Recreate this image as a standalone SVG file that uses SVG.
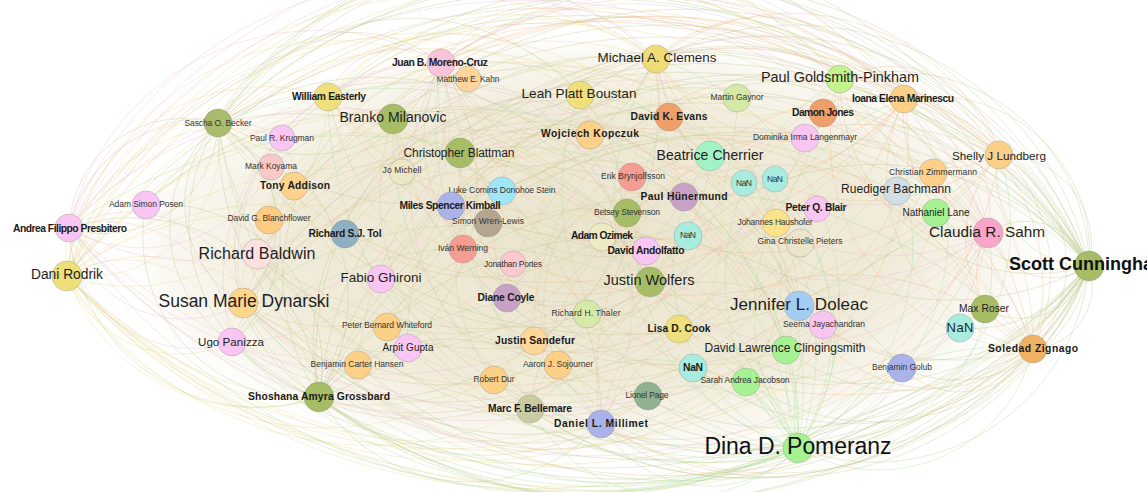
<svg xmlns="http://www.w3.org/2000/svg" width="1147" height="492" viewBox="0 0 1147 492">
<defs>
<radialGradient id="core" cx="0.5" cy="0.5" r="0.5">
<stop offset="0" stop-color="#e6dec4" stop-opacity="0.85"/>
<stop offset="0.65" stop-color="#ebe4cc" stop-opacity="0.72"/>
<stop offset="0.87" stop-color="#f1ebdb" stop-opacity="0.4"/>
<stop offset="1" stop-color="#ffffff" stop-opacity="0"/>
</radialGradient>
</defs>
<style>
.eo{stroke:#b4c27c;stroke-opacity:.45}
.ey{stroke:#e4d77f;stroke-opacity:.45}
.eg{stroke:#9fdd92;stroke-opacity:.45}
.ep{stroke:#efb2d6;stroke-opacity:.45}
.er{stroke:#f0b47e;stroke-opacity:.45}
.ex{stroke:#d4c29a;stroke-opacity:.5}
circle{stroke:#8c8c8c;stroke-opacity:.45;stroke-width:.8}
text{font-family:"Liberation Sans",Arial,sans-serif;text-anchor:middle;dominant-baseline:central;fill:#1e1e1e}
.s{font-size:8.5px;fill:#333}
.b{font-size:10.3px;font-weight:bold;fill:#1a1a1a}
</style>
<rect width="1147" height="492" fill="#ffffff"/>
<g id="edges" fill="none" stroke-width="0.7">
<ellipse cx="585" cy="248" rx="480" ry="220" fill="url(#core)" stroke="none"/>
<g class="eo">
<path d="M67 276A639 639 0 0 1 1089 266"/>
<path d="M69 228A638 638 0 0 1 1089 266"/>
<path d="M146 205A591 591 0 0 1 1089 266"/>
<path d="M218 124A551 551 0 0 1 1089 266"/>
<path d="M282 138A511 511 0 0 1 1089 266"/>
<path d="M328 97A487 487 0 0 1 1089 266"/>
<path d="M393 119A445 445 0 0 1 1089 266"/>
<path d="M441 63A424 424 0 0 1 1089 266"/>
<path d="M460 153A400 400 0 0 1 1089 266"/>
<path d="M580 95A336 336 0 0 1 1089 266"/>
<path d="M656 59A300 300 0 0 1 1089 266"/>
<path d="M840 79A195 195 0 0 1 1089 266"/>
<path d="M904 99A156 156 0 0 1 1089 266"/>
<path d="M999 155A90 90 0 0 1 1089 266"/>
<path d="M257 254A520 520 0 0 1 1089 266"/>
<path d="M243 303A529 529 0 0 1 1089 266"/>
<path d="M294 186A500 500 0 0 1 1089 266"/>
<path d="M269 220A513 513 0 0 1 1089 266"/>
<path d="M345 234A465 465 0 0 1 1089 266"/>
<path d="M451 206A400 400 0 0 1 1089 266"/>
<path d="M381 279A443 443 0 0 1 1089 266"/>
<path d="M650 282A275 275 0 0 1 1089 266"/>
<path d="M507 298A364 364 0 0 1 1089 266"/>
<path d="M988 233A67 67 0 0 1 1089 266"/>
<path d="M232 342A538 538 0 0 1 1089 266"/>
<path d="M319 397A488 488 0 0 1 1089 266"/>
<path d="M1089 266A700 700 0 0 1 67 276"/>
<path d="M1089 266A700 700 0 0 1 69 228"/>
<path d="M1089 266A620 620 0 0 1 232 342"/>
<path d="M1089 266A540 540 0 0 1 319 397"/>
<path d="M1089 266A600 600 0 0 1 243 303"/>
<path d="M1089 266A500 500 0 0 1 358 365"/>
<path d="M1089 266A460 460 0 0 1 408 348"/>
<path d="M1089 266A380 380 0 0 1 530 409"/>
<path d="M1089 266A330 330 0 0 1 601 424"/>
<path d="M1089 266A215 215 0 0 1 798 448"/>
<path d="M1089 266A197 197 0 0 1 786 350"/>
<path d="M1089 266A133 133 0 0 1 902 368"/>
<path d="M1089 266A63 63 0 0 1 1033 349"/>
<path d="M1089 266A71 71 0 0 1 985 309"/>
<path d="M1089 266A183 183 0 0 1 799 306"/>
<path d="M1089 266A350 350 0 0 1 534 341"/>
<path d="M1089 266A379 379 0 0 1 494 380"/>
<path d="M1089 266A287 287 0 0 1 648 396"/>
<path d="M1089 266A226 226 0 0 1 746 382"/>
<path d="M1089 266A256 256 0 0 1 693 368"/>
<path d="M1089 266A443 443 0 0 1 381 279"/>
<path d="M1089 266A560 560 0 0 1 257 254"/>
<path d="M1089 266A364 364 0 0 1 507 298"/>
<path d="M1089 266A275 275 0 0 1 650 282"/>
<path d="M1089 266A140 140 0 0 1 960 328"/>
<path d="M1089 266A156 156 0 0 1 904 99"/>
<path d="M1089 266A195 195 0 0 1 840 79"/>
<path d="M1089 266A300 300 0 0 1 656 59"/>
<path d="M1089 266A67 67 0 0 1 988 233"/>
<path d="M1089 266A90 90 0 0 1 999 155"/>
<path d="M218 124A144 144 0 0 1 441 63"/>
<path d="M218 124A277 277 0 0 1 656 59"/>
<path d="M218 124A390 390 0 0 1 840 79"/>
<path d="M218 124A429 429 0 0 1 904 99"/>
<path d="M218 124A489 489 0 0 1 999 155"/>
<path d="M218 124A227 227 0 0 1 580 95"/>
<path d="M218 124A486 486 0 0 1 988 233"/>
<path d="M218 124A287 287 0 0 1 650 282"/>
<path d="M218 124A182 182 0 0 1 319 397"/>
<path d="M218 124A136 136 0 0 1 232 342"/>
<path d="M218 124A114 114 0 0 1 69 228"/>
<path d="M218 124A113 113 0 0 1 243 303"/>
<path d="M218 124A304 304 0 0 1 601 424"/>
<path d="M441 63A144 144 0 0 1 218 124"/>
<path d="M656 59A277 277 0 0 1 218 124"/>
<path d="M319 397A182 182 0 0 1 218 124"/>
<path d="M232 342A136 136 0 0 1 218 124"/>
<path d="M69 228A114 114 0 0 1 218 124"/>
<path d="M243 303A113 113 0 0 1 218 124"/>
<path d="M601 424A304 304 0 0 1 218 124"/>
<path d="M999 155A489 489 0 0 1 218 124"/>
<path d="M319 397A189 189 0 0 1 69 228"/>
<path d="M319 397A161 161 0 0 1 146 205"/>
<path d="M319 397A164 164 0 0 1 282 138"/>
<path d="M319 397A222 222 0 0 1 441 63"/>
<path d="M319 397A298 298 0 0 1 656 59"/>
<path d="M319 397A249 249 0 0 1 580 95"/>
<path d="M319 397A381 381 0 0 1 840 79"/>
<path d="M319 397A451 451 0 0 1 999 155"/>
<path d="M319 397A430 430 0 0 1 988 233"/>
<path d="M319 397A447 447 0 0 1 1033 349"/>
<path d="M319 397A177 177 0 0 1 601 424"/>
<path d="M319 397A365 365 0 0 1 902 368"/>
<path d="M69 228A189 189 0 0 1 319 397"/>
<path d="M146 205A161 161 0 0 1 319 397"/>
<path d="M441 63A222 222 0 0 1 319 397"/>
<path d="M656 59A298 298 0 0 1 319 397"/>
<path d="M988 233A430 430 0 0 1 319 397"/>
<path d="M1033 349A560 560 0 0 1 319 397"/>
<path d="M601 424A177 177 0 0 1 319 397"/>
<path d="M902 368A450 450 0 0 1 319 397"/>
</g>
<g class="ey">
<path d="M67 276A134 134 0 0 1 218 124"/>
<path d="M67 276A160 160 0 0 1 282 138"/>
<path d="M67 276A269 269 0 0 1 441 63"/>
<path d="M67 276A392 392 0 0 1 656 59"/>
<path d="M67 276A499 499 0 0 1 840 79"/>
<path d="M67 276A535 535 0 0 1 904 99"/>
<path d="M67 276A587 587 0 0 1 999 155"/>
<path d="M67 276A576 576 0 0 1 988 233"/>
<path d="M67 276A340 340 0 0 1 580 95"/>
<path d="M67 276A389 389 0 0 1 669 117"/>
<path d="M67 276A409 409 0 0 1 710 156"/>
<path d="M67 276A364 364 0 0 1 650 282"/>
<path d="M67 276A458 458 0 0 1 799 306"/>
<path d="M67 276A469 469 0 0 1 798 448"/>
<path d="M67 276A606 606 0 0 1 1033 349"/>
<path d="M67 276A574 574 0 0 1 985 309"/>
<path d="M67 276A175 175 0 0 1 319 397"/>
<path d="M67 276A111 111 0 0 1 232 342"/>
<path d="M67 276A346 346 0 0 1 601 424"/>
<path d="M67 276A301 301 0 0 1 530 409"/>
<path d="M798 448A700 700 0 0 1 67 276"/>
<path d="M601 424A500 500 0 0 1 67 276"/>
<path d="M319 397A200 200 0 0 1 67 276"/>
<path d="M232 342A120 120 0 0 1 67 276"/>
<path d="M530 409A360 360 0 0 1 67 276"/>
<path d="M534 341A295 295 0 0 1 67 276"/>
<path d="M902 368A620 620 0 0 1 67 276"/>
<path d="M786 350A520 520 0 0 1 67 276"/>
<path d="M1033 349A750 750 0 0 1 67 276"/>
<path d="M985 309A700 700 0 0 1 67 276"/>
<path d="M799 306A520 520 0 0 1 67 276"/>
<path d="M650 282A400 400 0 0 1 67 276"/>
<path d="M988 233A640 640 0 0 1 67 276"/>
<path d="M218 124A134 134 0 0 1 67 276"/>
<path d="M656 59A116 116 0 0 1 840 79"/>
<path d="M840 79A116 116 0 0 1 656 59"/>
<path d="M656 59A53 53 0 0 1 580 95"/>
<path d="M580 95A53 53 0 0 1 656 59"/>
<path d="M656 59A206 206 0 0 1 328 97"/>
<path d="M328 97A250 250 0 0 1 656 59"/>
<path d="M656 59A169 169 0 0 1 393 119"/>
<path d="M393 119A169 169 0 0 1 656 59"/>
<path d="M656 59A231 231 0 0 1 601 424"/>
<path d="M601 424A231 231 0 0 1 656 59"/>
<path d="M656 59A319 319 0 0 1 232 342"/>
<path d="M232 342A319 319 0 0 1 656 59"/>
<path d="M328 97A450 450 0 0 1 840 79"/>
<path d="M840 79A320 320 0 0 1 328 97"/>
<path d="M328 97A158 158 0 0 1 580 95"/>
<path d="M580 95A158 158 0 0 1 328 97"/>
<path d="M328 97A198 198 0 0 1 67 276"/>
<path d="M67 276A198 198 0 0 1 328 97"/>
</g>
<g class="eg">
<path d="M218 124A415 415 0 0 1 798 448"/>
<path d="M441 63A328 328 0 0 1 798 448"/>
<path d="M656 59A259 259 0 0 1 798 448"/>
<path d="M393 119A326 326 0 0 1 798 448"/>
<path d="M580 95A259 259 0 0 1 798 448"/>
<path d="M840 79A232 232 0 0 1 798 448"/>
<path d="M904 99A228 228 0 0 1 798 448"/>
<path d="M999 155A222 222 0 0 1 798 448"/>
<path d="M988 233A179 179 0 0 1 798 448"/>
<path d="M319 397A301 301 0 0 1 798 448"/>
<path d="M232 342A360 360 0 0 1 798 448"/>
<path d="M243 303A359 359 0 0 1 798 448"/>
<path d="M69 228A476 476 0 0 1 798 448"/>
<path d="M460 153A280 280 0 0 1 798 448"/>
<path d="M710 156A191 191 0 0 1 798 448"/>
<path d="M328 97A367 367 0 0 1 798 448"/>
<path d="M669 117A222 222 0 0 1 798 448"/>
<path d="M798 448A415 415 0 0 1 218 124"/>
<path d="M798 448A328 328 0 0 1 441 63"/>
<path d="M798 448A259 259 0 0 1 656 59"/>
<path d="M798 448A326 326 0 0 1 393 119"/>
<path d="M798 448A259 259 0 0 1 580 95"/>
<path d="M798 448A232 232 0 0 1 840 79"/>
<path d="M798 448A228 228 0 0 1 904 99"/>
<path d="M798 448A222 222 0 0 1 999 155"/>
<path d="M798 448A179 179 0 0 1 988 233"/>
<path d="M798 448A500 500 0 0 1 319 397"/>
<path d="M798 448A500 500 0 0 1 232 342"/>
<path d="M798 448A480 480 0 0 1 243 303"/>
<path d="M798 448A600 600 0 0 1 69 228"/>
<path d="M798 448A124 124 0 0 1 601 424"/>
<path d="M798 448A169 169 0 0 1 530 409"/>
<path d="M798 448A280 280 0 0 1 460 153"/>
<path d="M798 448A191 191 0 0 1 710 156"/>
<path d="M798 448A367 367 0 0 1 328 97"/>
<path d="M798 448A222 222 0 0 1 669 117"/>
<path d="M798 448A255 255 0 0 1 1033 349"/>
<path d="M1033 349A159 159 0 0 1 798 448"/>
<path d="M601 424A124 124 0 0 1 798 448"/>
<path d="M530 409A169 169 0 0 1 798 448"/>
</g>
<g class="ep">
<path d="M69 228A254 254 0 0 1 441 63"/>
<path d="M69 228A382 382 0 0 1 656 59"/>
<path d="M69 228A144 144 0 0 1 282 138"/>
<path d="M69 228A528 528 0 0 1 904 99"/>
<path d="M69 228A583 583 0 0 1 999 155"/>
<path d="M69 228A574 574 0 0 1 988 233"/>
<path d="M69 228A365 365 0 0 1 650 282"/>
<path d="M69 228A459 459 0 0 1 799 306"/>
<path d="M69 228A124 124 0 0 1 232 342"/>
<path d="M69 228A118 118 0 0 1 243 303"/>
<path d="M441 63A254 254 0 0 1 69 228"/>
<path d="M282 138A144 144 0 0 1 69 228"/>
<path d="M232 342A124 124 0 0 1 69 228"/>
<path d="M243 303A118 118 0 0 1 69 228"/>
<path d="M650 282A420 420 0 0 1 69 228"/>
<path d="M799 306A520 520 0 0 1 69 228"/>
<path d="M988 233A680 680 0 0 1 69 228"/>
<path d="M988 233A234 234 0 0 1 656 59"/>
<path d="M988 233A134 134 0 0 1 840 79"/>
<path d="M988 233A358 358 0 0 1 441 63"/>
<path d="M988 233A269 269 0 0 1 580 95"/>
<path d="M988 233A270 270 0 0 1 601 424"/>
<path d="M988 233A214 214 0 0 1 650 282"/>
<path d="M988 233A468 468 0 0 1 243 303"/>
<path d="M656 59A234 234 0 0 1 988 233"/>
<path d="M840 79A134 134 0 0 1 988 233"/>
<path d="M441 63A358 358 0 0 1 988 233"/>
<path d="M580 95A269 269 0 0 1 988 233"/>
<path d="M601 424A270 270 0 0 1 988 233"/>
<path d="M243 303A468 468 0 0 1 988 233"/>
<path d="M441 63A134 134 0 0 1 656 59"/>
<path d="M656 59A134 134 0 0 1 441 63"/>
<path d="M441 63A330 330 0 0 1 840 79"/>
<path d="M840 79A250 250 0 0 1 441 63"/>
<path d="M441 63A74 74 0 0 1 328 97"/>
<path d="M328 97A74 74 0 0 1 441 63"/>
<path d="M441 63A247 247 0 0 1 601 424"/>
<path d="M601 424A247 247 0 0 1 441 63"/>
<path d="M441 63A218 218 0 0 1 232 342"/>
<path d="M232 342A218 218 0 0 1 441 63"/>
<path d="M441 63A195 195 0 0 1 243 303"/>
<path d="M243 303A195 195 0 0 1 441 63"/>
</g>
<g class="er">
<path d="M1033 349A123 123 0 0 1 999 155"/>
<path d="M1033 349A176 176 0 0 1 904 99"/>
<path d="M1033 349A78 78 0 0 1 988 233"/>
<path d="M1033 349A207 207 0 0 1 840 79"/>
<path d="M1033 349A297 297 0 0 1 656 59"/>
<path d="M1033 349A330 330 0 0 1 601 424"/>
<path d="M1033 349A149 149 0 0 1 799 306"/>
<path d="M1033 349A600 600 0 0 1 243 303"/>
<path d="M1033 349A411 411 0 0 1 441 63"/>
<path d="M1033 349A83 83 0 0 1 902 368"/>
<path d="M999 155A123 123 0 0 1 1033 349"/>
<path d="M904 99A176 176 0 0 1 1033 349"/>
<path d="M840 79A207 207 0 0 1 1033 349"/>
<path d="M656 59A297 297 0 0 1 1033 349"/>
<path d="M441 63A411 411 0 0 1 1033 349"/>
<path d="M243 303A495 495 0 0 1 1033 349"/>
<path d="M601 424A274 274 0 0 1 1033 349"/>
<path d="M218 124A520 520 0 0 1 1033 349"/>
<path d="M904 99A290 290 0 0 1 441 63"/>
<path d="M441 63A370 370 0 0 1 904 99"/>
<path d="M904 99A160 160 0 0 1 656 59"/>
<path d="M656 59A160 160 0 0 1 904 99"/>
<path d="M904 99A430 430 0 0 1 218 124"/>
<path d="M218 124A700 700 0 0 1 904 99"/>
<path d="M904 99A203 203 0 0 1 580 95"/>
<path d="M904 99A360 360 0 0 1 328 97"/>
<path d="M904 99A278 278 0 0 1 601 424"/>
<path d="M904 99A432 432 0 0 1 243 303"/>
<path d="M601 424A278 278 0 0 1 904 99"/>
<path d="M243 303A432 432 0 0 1 904 99"/>
<path d="M999 155A354 354 0 0 1 441 63"/>
<path d="M441 63A500 500 0 0 1 999 155"/>
<path d="M999 155A421 421 0 0 1 328 97"/>
<path d="M328 97A600 600 0 0 1 999 155"/>
<path d="M999 155A223 223 0 0 1 656 59"/>
<path d="M656 59A223 223 0 0 1 999 155"/>
<path d="M999 155A110 110 0 0 1 840 79"/>
<path d="M840 79A110 110 0 0 1 999 155"/>
<path d="M999 155A333 333 0 0 1 530 409"/>
<path d="M530 409A333 333 0 0 1 999 155"/>
</g>
<g class="ex">
<path d="M393 119A190 190 0 0 1 650 282"/>
<path d="M650 282A190 190 0 0 1 393 119"/>
<path d="M460 153A232 232 0 0 1 799 306"/>
<path d="M257 254A243 243 0 0 1 646 251"/>
<path d="M243 303A348 348 0 0 1 799 306"/>
<path d="M799 306A348 348 0 0 1 243 303"/>
<path d="M381 279A380 380 0 0 1 988 233"/>
<path d="M840 79A380 380 0 0 1 257 254"/>
<path d="M710 156A155 155 0 0 1 507 298"/>
<path d="M580 95A156 156 0 0 1 534 341"/>
<path d="M451 206A226 226 0 0 1 799 306"/>
<path d="M650 282A264 264 0 0 1 232 342"/>
<path d="M799 306A324 324 0 0 1 294 186"/>
<path d="M669 117A172 172 0 0 1 746 382"/>
<path d="M985 309A389 389 0 0 1 393 119"/>
<path d="M786 350A302 302 0 0 1 393 119"/>
<path d="M902 368A191 191 0 0 1 601 424"/>
<path d="M933 173A442 442 0 0 1 243 303"/>
<path d="M897 191A160 160 0 0 1 650 282"/>
<path d="M936 213A176 176 0 0 1 679 329"/>
<path d="M800 243A284 284 0 0 1 345 234"/>
<path d="M817 209A270 270 0 0 1 408 348"/>
<path d="M776 223A250 250 0 0 1 381 279"/>
<path d="M269 220A245 245 0 0 1 650 282"/>
<path d="M468 79A251 251 0 0 1 799 306"/>
<path d="M737 98A318 318 0 0 1 319 397"/>
<path d="M823 113A396 396 0 0 1 232 342"/>
<path d="M805 138A281 281 0 0 1 381 279"/>
<path d="M590 135A177 177 0 0 1 786 350"/>
<path d="M632 177A252 252 0 0 1 243 303"/>
<path d="M744 183A180 180 0 0 1 460 153"/>
<path d="M684 197A271 271 0 0 1 257 254"/>
<path d="M627 213A266 266 0 0 1 1033 349"/>
<path d="M602 237A209 209 0 0 1 282 138"/>
<path d="M646 251A165 165 0 0 1 441 63"/>
<path d="M679 329A178 178 0 0 1 460 153"/>
<path d="M534 341A256 256 0 0 1 840 79"/>
<path d="M494 380A183 183 0 0 1 580 95"/>
<path d="M558 365A147 147 0 0 1 710 156"/>
<path d="M530 409A187 187 0 0 1 799 306"/>
<path d="M648 396A263 263 0 0 1 243 303"/>
<path d="M601 424A229 229 0 0 1 393 119"/>
<path d="M746 382A318 318 0 0 1 257 254"/>
<path d="M693 368A329 329 0 0 1 218 124"/>
<path d="M358 365A344 344 0 0 1 840 79"/>
<path d="M408 348A220 220 0 0 1 669 117"/>
<path d="M387 327A383 383 0 0 1 988 233"/>
<path d="M587 314A176 176 0 0 1 441 63"/>
<path d="M507 298A173 173 0 0 1 656 59"/>
<path d="M513 264A312 312 0 0 1 999 155"/>
<path d="M463 249A211 211 0 0 1 786 350"/>
<path d="M488 223A317 317 0 0 1 985 309"/>
<path d="M345 234A236 236 0 0 1 710 156"/>
<path d="M502 191A176 176 0 0 1 243 303"/>
<path d="M402 172A267 267 0 0 1 799 306"/>
<path d="M271 167A243 243 0 0 1 646 251"/>
<path d="M294 186A327 327 0 0 1 786 350"/>
<path d="M146 205A317 317 0 0 1 650 282"/>
<path d="M232 342A350 350 0 0 1 710 156"/>
<path d="M960 328A196 196 0 0 1 650 282"/>
<path d="M823 325A343 343 0 0 1 328 97"/>
<path d="M775 179A328 328 0 0 1 257 254"/>
<path d="M688 236A280 280 0 0 1 243 303"/>
</g>
</g>
<g id="nodes">
<g id="n-becker"><circle cx="218" cy="123" r="14" fill="#a9bc6b"/><text x="218" y="123" class="s" textLength="67">Sascha O. Becker</text></g>
<g id="n-krugman"><circle cx="282" cy="138" r="13" fill="#f9c6f3"/><text x="282" y="138" class="s" textLength="64">Paul R. Krugman</text></g>
<g id="n-koyama"><circle cx="271" cy="167" r="13" fill="#f9c8c8"/><text x="271" y="166" class="s" textLength="52">Mark Koyama</text></g>
<g id="n-addison"><circle cx="294" cy="186" r="14" fill="#fdd38c"/><text x="295" y="185" class="b" textLength="70">Tony Addison</text></g>
<g id="n-kahn"><circle cx="468" cy="79" r="13" fill="#fdd59c"/><text x="468" y="79" class="s" textLength="63">Matthew E. Kahn</text></g>
<g id="n-moreno"><circle cx="441" cy="63" r="14" fill="#f9c4d9"/><text x="440" y="62" class="b" textLength="96">Juan B. Moreno-Cruz</text></g>
<g id="n-easterly"><circle cx="328" cy="97" r="14" fill="#efe07c"/><text x="329" y="96" class="b" textLength="74">William Easterly</text></g>
<g id="n-milanovic"><circle cx="393" cy="119" r="15" fill="#a6bd66"/><text x="393" y="117" style="font-size:14px" textLength="107">Branko Milanovic</text></g>
<g id="n-blattman"><circle cx="460" cy="153" r="15" fill="#a6bd66"/><text x="459" y="153" style="font-size:12px" textLength="111">Christopher Blattman</text></g>
<g id="n-boustan"><circle cx="580" cy="95" r="14" fill="#efe07c"/><text x="579" y="93" style="font-size:13.6px" textLength="115">Leah Platt Boustan</text></g>
<g id="n-michell"><circle cx="402" cy="172" r="13" fill="#ece8c6"/><text x="402" y="170" class="s" textLength="39">Jo Michell</text></g>
<g id="n-clemens"><circle cx="656" cy="59" r="14" fill="#efdc78"/><text x="657" y="57" style="font-size:13.4px" textLength="119">Michael A. Clemens</text></g>
<g id="n-evans"><circle cx="669" cy="117" r="14" fill="#ef9f6a"/><text x="669" y="116" class="b" textLength="77">David K. Evans</text></g>
<g id="n-gaynor"><circle cx="737" cy="98" r="14" fill="#d6eaa8"/><text x="737" y="97" class="s" textLength="53">Martin Gaynor</text></g>
<g id="n-goldsmith"><circle cx="840" cy="79" r="14" fill="#c3f28f"/><text x="840" y="77" style="font-size:14.4px" textLength="158">Paul Goldsmith-Pinkham</text></g>
<g id="n-jones"><circle cx="823" cy="113" r="14" fill="#ef9f6a"/><text x="823" y="112" class="b" textLength="62">Damon Jones</text></g>
<g id="n-langenmayr"><circle cx="805" cy="138" r="14" fill="#f9c6f3"/><text x="805" y="137" class="s" textLength="104">Dominika Irma Langenmayr</text></g>
<g id="n-kopczuk"><circle cx="590" cy="135" r="14" fill="#fdd088"/><text x="590" y="133" class="b" textLength="98">Wojciech Kopczuk</text></g>
<g id="n-cherrier"><circle cx="710" cy="156" r="15" fill="#a3f2c6"/><text x="710" y="155" style="font-size:14px" textLength="107">Beatrice Cherrier</text></g>
<g id="n-brynjolfsson"><circle cx="632" cy="177" r="14" fill="#f59d92"/><text x="633" y="176" class="s" textLength="64">Erik Brynjolfsson</text></g>
<g id="n-marinescu"><circle cx="904" cy="99" r="14" fill="#fdd088"/><text x="903" y="98" class="b" textLength="102">Ioana Elena Marinescu</text></g>
<g id="n-lundberg"><circle cx="999" cy="155" r="14" fill="#fdd088"/><text x="999" y="155" style="font-size:11.7px" textLength="94">Shelly J Lundberg</text></g>
<g id="n-posen"><circle cx="146" cy="205" r="14" fill="#f9c6f3"/><text x="146" y="204" class="s" textLength="74">Adam Simon Posen</text></g>
<g id="n-presbitero"><circle cx="69" cy="228" r="14" fill="#f9c6f3"/><text x="70" y="228" class="b" textLength="114">Andrea Filippo Presbitero</text></g>
<g id="n-rodrik"><circle cx="67" cy="276" r="15" fill="#ede07a"/><text x="67" y="274" style="font-size:13.8px" textLength="72">Dani Rodrik</text></g>
<g id="n-blanchflower"><circle cx="269" cy="220" r="14" fill="#fdcc82"/><text x="269" y="218" class="s" textLength="83">David G. Blanchflower</text></g>
<g id="n-baldwin"><circle cx="257" cy="254" r="15" fill="#fde0e0"/><text x="257" y="253" style="font-size:16px" textLength="117">Richard Baldwin</text></g>
<g id="n-dynarski"><circle cx="243" cy="303" r="15" fill="#fdd68c"/><text x="244" y="301" style="font-size:17.5px" textLength="171">Susan Marie Dynarski</text></g>
<g id="n-stein"><circle cx="502" cy="191" r="14" fill="#9fe7f8"/><text x="502" y="190" class="s" textLength="107">Luke Comins Donohoe Stein</text></g>
<g id="n-kimball"><circle cx="451" cy="206" r="14" fill="#aab2ea"/><text x="450" y="205" class="b" textLength="101">Miles Spencer Kimball</text></g>
<g id="n-wrenlewis"><circle cx="488" cy="223" r="14" fill="#b4a590"/><text x="488" y="221" class="s" textLength="72">Simon Wren-Lewis</text></g>
<g id="n-tol"><circle cx="345" cy="234" r="14" fill="#8fb0c2"/><text x="345" y="233" class="b" textLength="73">Richard S.J. Tol</text></g>
<g id="n-werning"><circle cx="463" cy="249" r="14" fill="#f59d92"/><text x="463" y="248" class="s" textLength="50">Iván Werning</text></g>
<g id="n-portes"><circle cx="513" cy="264" r="13" fill="#fcc9cd"/><text x="513" y="264" class="s" textLength="58">Jonathan Portes</text></g>
<g id="n-ghironi"><circle cx="381" cy="279" r="14" fill="#f9c6f3"/><text x="381" y="277" style="font-size:13.5px" textLength="81">Fabio Ghironi</text></g>
<g id="n-coyle"><circle cx="507" cy="298" r="14" fill="#c8a2c6"/><text x="506" y="297" class="b" textLength="57">Diane Coyle</text></g>
<g id="n-whiteford"><circle cx="387" cy="327" r="14" fill="#fdd088"/><text x="387" y="325" class="s" textLength="90">Peter Bernard Whiteford</text></g>
<g id="n-thaler"><circle cx="587" cy="314" r="14" fill="#d6eaa8"/><text x="586" y="313" class="s" textLength="69">Richard H. Thaler</text></g>
<g id="n-nan1"><circle cx="744" cy="183" r="13" fill="#a8ece0"/><text x="744" y="183" class="s" textLength="16">NaN</text></g>
<g id="n-nan2"><circle cx="775" cy="179" r="13" fill="#a8ece0"/><text x="775" y="179" class="s" textLength="16">NaN</text></g>
<g id="n-hunermund"><circle cx="684" cy="197" r="14" fill="#c8a2c6"/><text x="684" y="196" class="b" textLength="87">Paul Hünermund</text></g>
<g id="n-stevenson"><circle cx="627" cy="213" r="14" fill="#a6bd66"/><text x="627" y="212" class="s" textLength="66">Betsey Stevenson</text></g>
<g id="n-blair"><circle cx="817" cy="209" r="13" fill="#f9c6f3"/><text x="816" y="207" class="b" textLength="61">Peter Q. Blair</text></g>
<g id="n-haushofer"><circle cx="776" cy="223" r="14" fill="#fde28a"/><text x="775" y="222" class="s" textLength="75">Johannes Haushofer</text></g>
<g id="n-nan3"><circle cx="688" cy="236" r="14" fill="#a8ece0"/><text x="688" y="235" class="s" textLength="16">NaN</text></g>
<g id="n-ozimek"><circle cx="602" cy="237" r="14" fill="#ecebc3"/><text x="602" y="235" class="b" textLength="62">Adam Ozimek</text></g>
<g id="n-andolfatto"><circle cx="646" cy="251" r="14" fill="#f9c6f3"/><text x="646" y="250" class="b" textLength="77">David Andolfatto</text></g>
<g id="n-pieters"><circle cx="800" cy="243" r="14" fill="#ece5c9"/><text x="800" y="241" class="s" textLength="85">Gina Christelle Pieters</text></g>
<g id="n-wolfers"><circle cx="650" cy="282" r="15" fill="#a6bd66"/><text x="649" y="280" style="font-size:14.5px" textLength="91">Justin Wolfers</text></g>
<g id="n-jayachandran"><circle cx="823" cy="325" r="14" fill="#f9c6f3"/><text x="824" y="324" class="s" textLength="82">Seema Jayachandran</text></g>
<g id="n-doleac"><circle cx="799" cy="306" r="15" fill="#a3cdf2"/><text x="799" y="304" style="font-size:17px" textLength="138">Jennifer L. Doleac</text></g>
<g id="n-cook"><circle cx="679" cy="329" r="14" fill="#efe07c"/><text x="679" y="328" class="b" textLength="63">Lisa D. Cook</text></g>
<g id="n-zimmermann"><circle cx="933" cy="173" r="14" fill="#fdd088"/><text x="933" y="172" class="s" textLength="88">Christian Zimmermann</text></g>
<g id="n-bachmann"><circle cx="897" cy="191" r="14" fill="#d2dee6"/><text x="896" y="189" style="font-size:12px" textLength="110">Ruediger Bachmann</text></g>
<g id="n-lane"><circle cx="936" cy="213" r="14" fill="#a6f292"/><text x="936" y="212" style="font-size:10px" textLength="67">Nathaniel Lane</text></g>
<g id="n-sahm"><circle cx="988" cy="233" r="15" fill="#f7a6ca"/><text x="987" y="231" style="font-size:15.3px" textLength="116">Claudia R. Sahm</text></g>
<g id="n-cunningham"><circle cx="1089" cy="266" r="15" fill="#a6bd66"/><text x="1089" y="264" style="font-size:18px;font-weight:bold;fill:#111">Scott Cunningham</text></g>
<g id="n-roser"><circle cx="985" cy="309" r="14" fill="#a6bd66"/><text x="984" y="308" style="font-size:10.3px" textLength="50">Max Roser</text></g>
<g id="n-nan4"><circle cx="960" cy="328" r="14" fill="#a8ece0"/><text x="960" y="327" style="font-size:13px" textLength="27">NaN</text></g>
<g id="n-panizza"><circle cx="232" cy="342" r="14" fill="#f9c6f3"/><text x="231" y="341" style="font-size:11.6px" textLength="66">Ugo Panizza</text></g>
<g id="n-grossbard"><circle cx="319" cy="397" r="15" fill="#a6bd66"/><text x="319" y="396" class="b" textLength="142">Shoshana Amyra Grossbard</text></g>
<g id="n-gupta"><circle cx="408" cy="348" r="14" fill="#f9c6f3"/><text x="408" y="347" style="font-size:10px" textLength="51">Arpit Gupta</text></g>
<g id="n-hansen"><circle cx="358" cy="365" r="14" fill="#fdd088"/><text x="357" y="364" class="s" textLength="93">Benjamin Carter Hansen</text></g>
<g id="n-sandefur"><circle cx="534" cy="341" r="14" fill="#fdd69a"/><text x="535" y="340" class="b" textLength="80">Justin Sandefur</text></g>
<g id="n-sojourner"><circle cx="558" cy="365" r="14" fill="#fdd088"/><text x="558" y="364" class="s" textLength="70">Aaron J. Sojourner</text></g>
<g id="n-dur"><circle cx="494" cy="380" r="14" fill="#fdd088"/><text x="494" y="379" class="s" textLength="41">Robert Dur</text></g>
<g id="n-bellemare"><circle cx="530" cy="409" r="14" fill="#cacba2"/><text x="530" y="408" class="b" textLength="84">Marc F. Bellemare</text></g>
<g id="n-millimet"><circle cx="601" cy="424" r="14" fill="#aab2ea"/><text x="601" y="423" class="b" textLength="94">Daniel L. Millimet</text></g>
<g id="n-nan5"><circle cx="693" cy="368" r="14" fill="#a8ece0"/><text x="693" y="367" class="b" textLength="20">NaN</text></g>
<g id="n-page"><circle cx="648" cy="396" r="14" fill="#90b290"/><text x="647" y="395" class="s" textLength="43">Lionel Page</text></g>
<g id="n-clingingsmith"><circle cx="786" cy="350" r="14" fill="#a6f292"/><text x="785" y="348" style="font-size:12px" textLength="161">David Lawrence Clingingsmith</text></g>
<g id="n-jacobson"><circle cx="746" cy="382" r="14" fill="#a6f292"/><text x="745" y="380" class="s" textLength="89">Sarah Andrea Jacobson</text></g>
<g id="n-pomeranz"><circle cx="798" cy="448" r="15" fill="#a6f292"/><text x="798" y="446" style="font-size:23px;fill:#111" textLength="187">Dina D. Pomeranz</text></g>
<g id="n-golub"><circle cx="902" cy="368" r="14" fill="#aab2ea"/><text x="902" y="367" class="s" textLength="60">Benjamin Golub</text></g>
<g id="n-zignago"><circle cx="1033" cy="349" r="14" fill="#f0b262"/><text x="1033" y="348" class="b" textLength="90">Soledad Zignago</text></g>
</g>
</svg>
